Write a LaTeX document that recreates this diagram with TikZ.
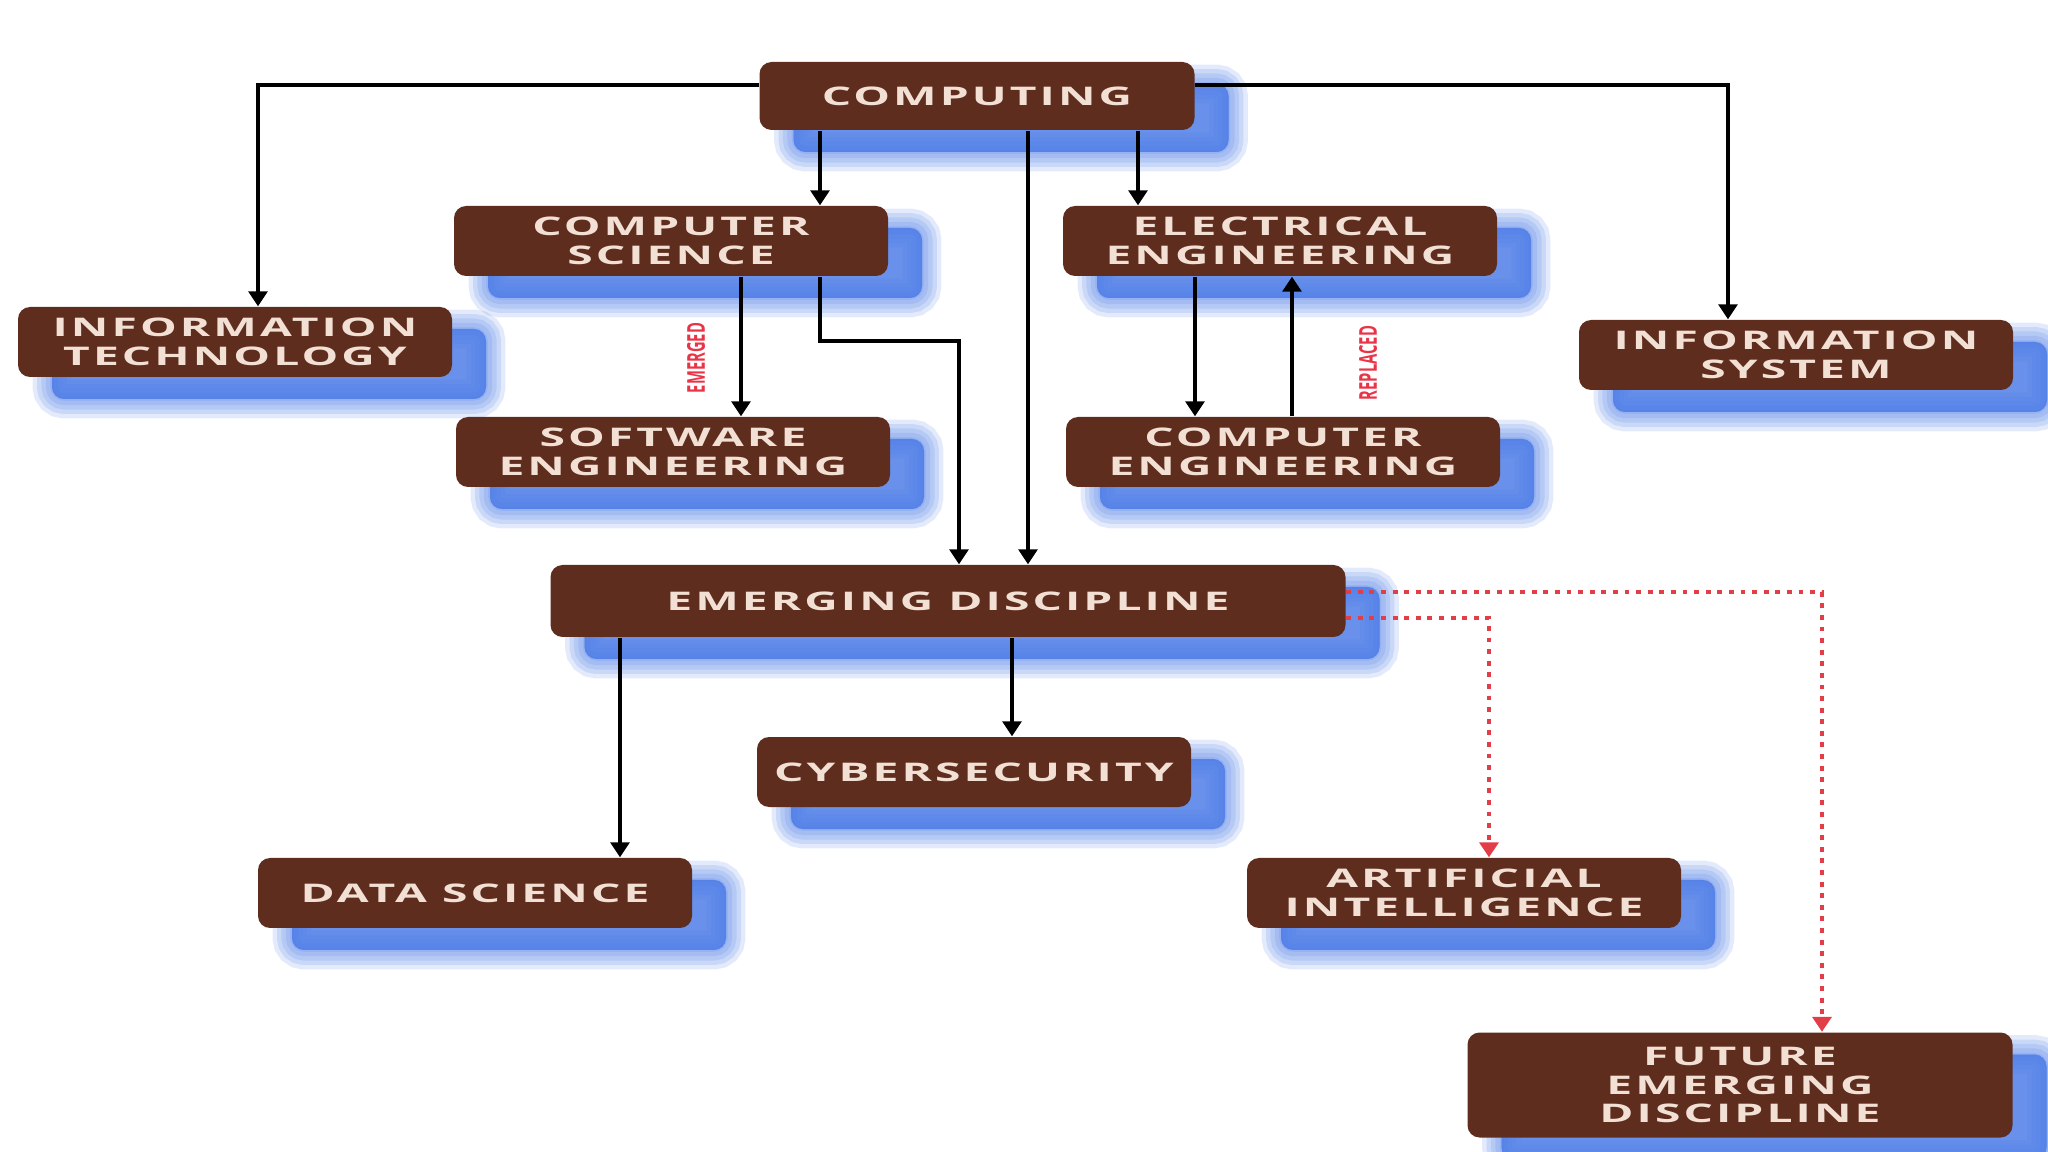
\documentclass[tikz,border=0pt]{standalone}
\usepackage{fontspec}
\newfontfamily\discfont[FakeStretch=1.8,LetterSpace=12]{Open Sans}
\newfontfamily\tagfont[FakeStretch=0.6]{Open Sans}
\usetikzlibrary{arrows.meta,shadows,positioning,calc}
\definecolor{brownbox}{RGB}{94,45,30}
\definecolor{creamtext}{RGB}{242,224,212}
\definecolor{shadowblue}{RGB}{74,122,230}
\definecolor{tagred}{RGB}{232,52,70}
\definecolor{dotred}{RGB}{226,62,72}

\begin{document}
\begin{tikzpicture}
[>={Triangle[width=1.9mm,length=1.5mm]},
blurlayer/.style = {general shadow = {fill = shadowblue, draw = shadowblue, line width = #1, opacity = 0.16, shadow xshift = 3.4mm, shadow yshift = -2.2mm}},
boxshadow/.style = {blurlayer = 11pt, blurlayer = 8.5pt, blurlayer = 6pt, blurlayer = 3.5pt, blurlayer = 1pt,
                    general shadow = {fill = shadowblue, opacity = 0.6, shadow xshift = 3.4mm, shadow yshift = -2.2mm}},
box/.style = {rectangle, rounded corners = 1.2mm, fill = brownbox, text = creamtext, font = \discfont\bfseries\fontsize{7.3}{8.2}\selectfont, minimum width = 4.34cm, minimum height = 0.70cm, align = center, inner sep = 0pt, boxshadow},
link/.style = {->, line width = 0.9pt, black},
dotlink/.style = {->, line width = 1.3pt, dotred, dash pattern = on 1.4pt off 1.9pt},
tag/.style = {text = tagred, font = \tagfont\bfseries\fontsize{7}{8}\selectfont, rotate = 90, inner sep = 0pt},]
\useasboundingbox (0,0) rectangle (20.48,-11.52);
\node (comp) at (9.77,-0.96)[box, minimum width = 4.35cm, minimum height = 0.68cm] {COMPUTING};
\node (cs) at (6.71,-2.41)[box] {COMPUTER\\SCIENCE};
\node (ee) at (12.80,-2.41)[box] {ELECTRICAL\\ENGINEERING};
\node (it) at (2.35,-3.42)[box] {INFORMATION\\TECHNOLOGY};
\node (is) at (17.96,-3.55)[box] {INFORMATION\\SYSTEM};
\node (se) at (6.73,-4.52)[box] {SOFTWARE\\ENGINEERING};
\node (ce) at (12.83,-4.52)[box] {COMPUTER\\ENGINEERING};
\node (ed) at (9.48,-6.01)[box, minimum width = 7.95cm, minimum height = 0.72cm] {EMERGING DISCIPLINE};
\node (cy) at (9.74,-7.72)[box] {CYBERSECURITY};
\node (ds) at (4.75,-8.93)[box] {DATA SCIENCE};
\node (ai) at (14.64,-8.93)[box] {ARTIFICIAL\\INTELLIGENCE};
\node (fed) at (17.40,-10.85)[box, minimum width = 5.45cm, minimum height = 1.05cm] {FUTURE\\EMERGING\\DISCIPLINE};
\coordinate (bend) at (9.59,-3.41);
\draw[link] ([yshift=1.1mm]comp.west) -| ([xshift=2.3mm]it.north);
\draw[link] ([yshift=1.1mm]comp.east) -| ([xshift=-6.8mm]is.north);
\draw[link] ([xshift=-15.7mm]comp.south) -- ([xshift=-15.7mm]comp.south |- cs.north);
\draw[link] ([xshift=16.1mm]comp.south) -- ([xshift=16.1mm]comp.south |- ee.north);
\draw[link] ([xshift=5.1mm]comp.south) -- ([xshift=5.1mm]comp.south |- ed.north);
\draw[link] ([xshift=7mm]cs.south) -- ([xshift=7mm]cs.south |- se.north);
\draw[link] ([xshift=14.9mm]cs.south) |- (bend) -- (bend |- ed.north);
\draw[link] ([xshift=-8.5mm]ee.south) -- ([xshift=-8.5mm]ee.south |- ce.north);
\draw[link] ([xshift=0.9mm]ce.north) -- ([xshift=0.9mm]ce.north |- ee.south);
\draw[link] ([xshift=-32.8mm]ed.south) -- ([xshift=-32.8mm]ed.south |- ds.north);
\draw[link] ([xshift=6.4mm]ed.south) -- ([xshift=6.4mm]ed.south |- cy.north);
\draw[dotlink] ([yshift=-1.7mm]ed.east) -| ([xshift=2.5mm]ai.north);
\draw[dotlink] ([yshift=0.9mm]ed.east) -| ([xshift=8.2mm]fed.north);
\node (emerged) at (6.96,-3.58)[tag] {EMERGED};
\node (replaced) at (13.68,-3.63)[tag] {REPLACED};
\end{tikzpicture}
\end{document}
